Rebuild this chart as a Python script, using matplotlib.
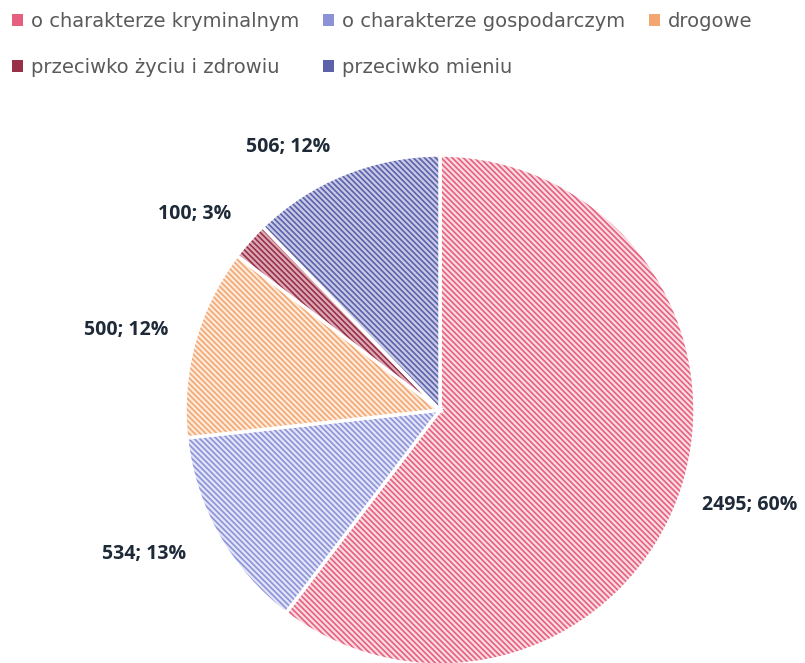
import numpy as np
import matplotlib.pyplot as plt
from matplotlib.colors import to_rgba
from matplotlib.patches import Patch

# data
categories = ["o charakterze kryminalnym", "o charakterze gospodarczym", "drogowe",
              "przeciwko życiu i zdrowiu", "przeciwko mieniu"]
values = [2495, 534, 500, 100, 506]
percents = [60, 13, 12, 3, 12]

line_colors = ["#e4607e", "#8c92d8", "#f4a672", "#983048", "#5c62aa"]
fill_colors = ["#fbdbe2", "#e2e4f7", "#fdebdc", "#dcaab6", "#c8cae6"]

plt.rcParams["font.family"] = ["Liberation Sans Narrow", "DejaVu Sans"]
plt.rcParams["hatch.linewidth"] = 1.2

fig = plt.figure(figsize=(8.05, 6.63), dpi=100)
ax = fig.add_axes([0, 0, 1, 1])

labels = [f"{v}; {p}%" for v, p in zip(values, percents)]
wedges, texts = ax.pie(values, startangle=90, counterclock=False, radius=1,
                       labels=labels, labeldistance=1.27,
                       wedgeprops=dict(edgecolor="white", linewidth=2.5),
                       textprops=dict(fontsize=14, fontweight="bold", color="#1e2a38",
                                      family=["Open Sans", "DejaVu Sans"]))

for w, lc, fc in zip(wedges, line_colors, fill_colors):
    w.set_facecolor(fc)
    w.set_hatch("\\" * 6)
    w._hatch_color = to_rgba(lc)

# label placement tweaks (distance, angle shift) like Excel's best fit
nudge = {0: (1.27, 1.5), 1: (1.29, -3.5), 2: (1.27, 1.2), 3: (1.23, 3.0), 4: (1.19, 8.0)}
for i, (w, t) in enumerate(zip(wedges, texts)):
    d, da = nudge[i]
    ang = np.deg2rad((w.theta1 + w.theta2) / 2 + da)
    t.set_position((d * np.cos(ang), d * np.sin(ang)))
    t.set_ha("center")
    t.set_va("center")

px = 255.0
ax.set_xlim(-440 / px, (805 - 440) / px)
ax.set_ylim(-(663 - 410) / px, 410 / px)
ax.set_aspect("auto")
ax.axis("off")

handles = [Patch(facecolor=c, edgecolor="none") for c in line_colors]
order = [0, 3, 1, 4, 2]
leg = fig.legend([handles[i] for i in order], [categories[i] for i in order],
                 ncol=3, loc="upper left", bbox_to_anchor=(0.0, 1.0), frameon=False,
                 fontsize=14, handlelength=0.6, handleheight=0.6, handletextpad=0.4,
                 columnspacing=1.2, labelspacing=1.4, borderaxespad=0.2)
for t in leg.get_texts():
    t.set_color("#5a5a5a")

fig.savefig("out.png", dpi=100)
